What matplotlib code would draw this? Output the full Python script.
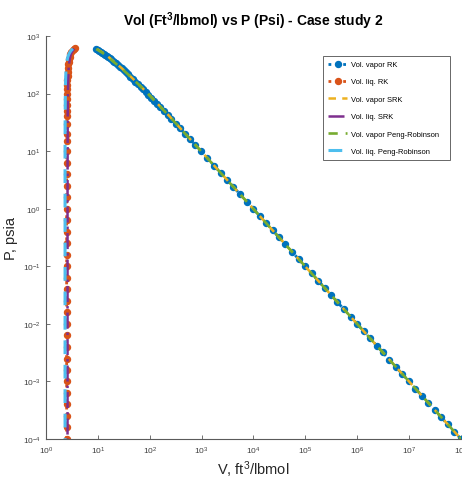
import matplotlib
matplotlib.use("Agg")
import matplotlib.pyplot as plt

plt.rcParams['font.family'] = ['Liberation Sans', 'DejaVu Sans']
plt.rcParams['mathtext.default'] = 'regular'

# ---- data ----
P_vap = [594, 575, 555, 535, 515, 495, 475, 455, 435, 415, 395, 375, 355, 335, 315,
         295, 275, 255, 235, 215, 195, 178, 160, 145, 130, 118, 106, 95, 84, 75,
         66, 58, 50, 42, 36, 30, 25, 20, 16, 13, 10, 7.5, 5.6, 4.2, 3.2, 2.4, 1.8,
         1.33, 1, 0.75, 0.56, 0.42, 0.32, 0.24, 0.18, 0.133, 0.1, 0.075, 0.056,
         0.042, 0.032, 0.024, 0.018, 0.0133, 0.01, 0.0075, 0.0056, 0.0042, 0.0032,
         0.0024, 0.0018, 0.00133, 0.001, 7.5e-4, 5.6e-4, 4.2e-4, 3.2e-4, 2.4e-4,
         1.8e-4, 1.33e-4, 1e-4]
V_vap_rk = [9.4, 10.0, 10.7, 11.4, 12.1, 12.9, 13.8, 14.7, 15.7, 16.8, 18.0, 19.3,
            20.8, 22.4, 24.2, 26.3, 28.6, 31.3, 34.4, 38.1, 42.5, 47.1, 53.1, 59.3,
            66.8, 74.3, 83.2, 93.7, 107, 121, 138, 158, 185, 222, 261, 315, 380,
            477, 600, 740, 966, 1295, 1740, 2325, 3060, 4090, 5450, 7390, 9840,
            1.314e4, 1.758e4, 2.346e4, 3.08e4, 4.11e4, 5.48e4, 7.43e4, 9.9e4,
            1.32e5, 1.77e5, 2.36e5, 3.1e5, 4.13e5, 5.5e5, 7.45e5, 9.92e5, 1.322e6,
            1.77e6, 2.36e6, 3.1e6, 4.13e6, 5.5e6, 7.45e6, 9.93e6, 1.323e7, 1.77e7,
            2.36e7, 3.1e7, 4.13e7, 5.5e7, 7.45e7, 1e8]

P_vap_line = [594, 520, 440, 360, 280, 200, 140, 100, 63, 40, 20, 10, 1, 0.1,
              0.01, 0.001, 1e-4]
V_vap_srk = [9.6, 12.2, 15.7, 20.3, 28.3, 42.3, 63.3, 92.3, 150, 243, 485, 975,
             9850, 9.9e4, 9.93e5, 9.95e6, 1e8]
V_vap_pr = [9.3, 11.9, 15.3, 19.8, 27.8, 41.8, 62.8, 91.8, 149, 242, 484, 973,
            9840, 9.9e4, 9.93e5, 9.95e6, 1e8]

P_liq = [620, 594, 560, 520, 480, 440, 400, 360, 320, 280, 240, 200, 170, 140,
         120, 100, 80, 63, 50, 40, 30, 20, 15, 10, 6.3, 4, 2.5, 1.6, 1, 0.63, 0.4,
         0.25, 0.16, 0.1, 0.063, 0.04, 0.025, 0.016, 0.01, 0.0063, 0.004, 0.0025,
         0.0016, 0.001, 6.3e-4, 4e-4, 2.5e-4, 1.6e-4, 1e-4]
V_liq_rk = [3.65, 3.45, 3.25, 3.08, 2.96, 2.87, 2.80, 2.74, 2.70, 2.66, 2.63, 2.60,
            2.58, 2.57, 2.56, 2.55, 2.54, 2.53, 2.52, 2.52, 2.51, 2.51, 2.5, 2.5,
            2.5, 2.5, 2.5, 2.5, 2.5, 2.5, 2.5, 2.5, 2.5, 2.5, 2.5, 2.5, 2.5, 2.5,
            2.5, 2.5, 2.5, 2.5, 2.5, 2.5, 2.5, 2.5, 2.5, 2.5, 2.5]

P_liq_line = [600, 560, 520, 480, 440, 400, 320, 240, 160, 100, 40, 10, 1, 0.1,
              0.01, 0.001, 1e-4]
V_liq_srk = [3.5, 3.3, 3.13, 3.01, 2.93, 2.86, 2.77, 2.71, 2.67, 2.64, 2.62, 2.61,
             2.6, 2.6, 2.6, 2.6, 2.6]
V_liq_pr = [3.3, 3.05, 2.88, 2.75, 2.65, 2.58, 2.48, 2.42, 2.38, 2.36, 2.34, 2.33,
            2.33, 2.33, 2.33, 2.33, 2.33]

labels = ['Vol. vapor RK', 'Vol. liq. RK', 'Vol. vapor SRK', 'Vol. liq. SRK',
          'Vol. vapor Peng-Robinson', 'Vol. liq. Peng-Robinson']
colors = ['#0072BD', '#D95319', '#EDB120', '#7E2F8E', '#77AC30', '#4DBEEE']

fig = plt.figure(figsize=(4.62, 4.81), dpi=100)
ax = fig.add_axes([46 / 462, 41 / 481, 415 / 462, 403 / 481])

ax.plot(V_vap_rk, P_vap, linestyle=':', marker='o', color=colors[0], lw=2.0,
        ms=4.3, mew=1.0, label=labels[0])
ax.plot(V_liq_rk, P_liq, linestyle=':', marker='o', color=colors[1], lw=2.0,
        ms=4.3, mew=1.0, label=labels[1])
ax.plot(V_vap_srk, P_vap_line, linestyle='--', color=colors[2], lw=1.8,
        dashes=(3, 2.5), label=labels[2])
ax.plot(V_liq_srk, P_liq_line, linestyle='-.', color=colors[3], lw=1.8,
        label=labels[3])
ax.plot(V_vap_pr, P_vap_line, linestyle='--', color=colors[4], lw=1.9,
        dashes=(3.5, 3.0), label=labels[4])
ax.plot(V_liq_pr, P_liq_line, linestyle='--', color=colors[5], lw=2.2,
        dashes=(4.5, 3.5), label=labels[5])

ax.set_xscale('log')
ax.set_yscale('log')
ax.set_xlim(1, 1e8)
ax.set_ylim(1e-4, 1e3)
ax.set_xticks([10.0 ** k for k in range(0, 9)])
ax.set_yticks([10.0 ** k for k in range(-4, 4)])
ax.minorticks_off()

for s in ['top', 'right']:
    ax.spines[s].set_visible(False)
for s in ['left', 'bottom']:
    ax.spines[s].set_color('#5a5a5a')
    ax.spines[s].set_linewidth(0.8)
ax.tick_params(direction='in', length=3, width=0.6, colors='#5a5a5a',
               labelsize=6, labelcolor='#404040', pad=4)

ax.set_title('Vol (Ft$^3$/lbmol) vs P (Psi) - Case study 2', fontsize=10,
             fontweight='bold', pad=8)
ax.set_xlabel('V, ft$^3$/lbmol', fontsize=10.5, color='#262626', labelpad=2)
ax.set_ylabel('P, psia', fontsize=10.5, color='#262626', labelpad=3)

leg = ax.legend(loc='upper left',
                bbox_to_anchor=(323 / 462, 1 - 167 / 481, 127 / 462, 110 / 481),
                bbox_transform=fig.transFigure, mode='expand',
                fontsize=5.4, frameon=True,
                fancybox=False, edgecolor='#404040', handlelength=2.6,
                labelspacing=1.35, borderpad=0.65, handletextpad=0.5,
                borderaxespad=0, numpoints=1)
leg.get_frame().set_linewidth(0.7)

fig.savefig('out.png', dpi=100)
